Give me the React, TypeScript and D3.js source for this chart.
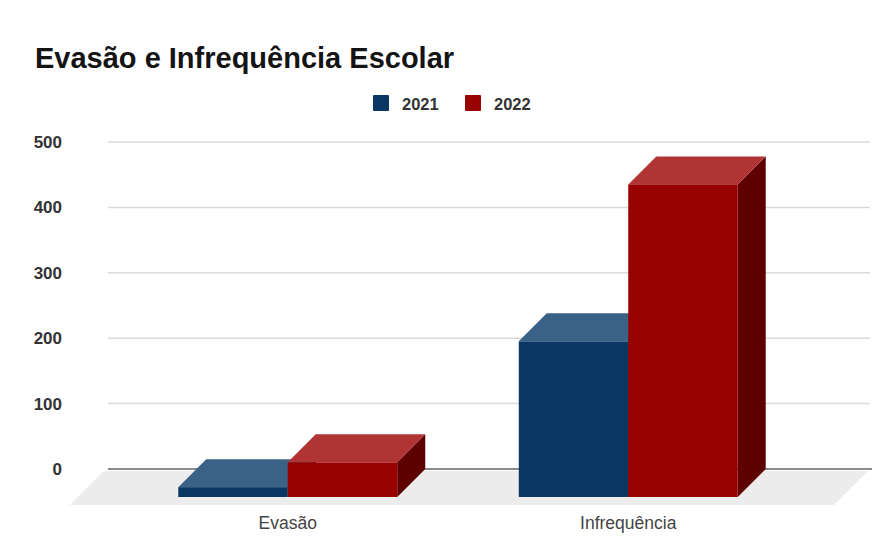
import * as d3 from "d3";

const categories = ["Evasão", "Infrequência"];
const seriesNames = ["2021", "2022"];
const values2021 = [15, 238];
const values2022 = [53, 478];
const yTicks = [0, 100, 200, 300, 400, 500];

const W = 886;
const H = 549;
const depth = 28;
const font = "Arial, 'Liberation Sans', sans-serif";

const palette = [
  { front: "#093662", top: "#3a6186", side: "#06264a" },
  { front: "#990000", top: "#b03434", side: "#5e0000" },
];

export default function App() {
  // back wall scale (gridlines live here)
  const y = d3.scaleLinear().domain([0, 500]).range([469, 142]);
  const gridX0 = 108;
  const gridX1 = 870;

  // front faces of the boxes
  const x = d3
    .scaleBand<string>()
    .domain(categories)
    .range([78, 838])
    .paddingInner(0.357)
    .paddingOuter(0.2945);
  const xs = d3.scaleBand<string>().domain(seriesNames).range([0, x.bandwidth()]).padding(0);

  const series = [values2021, values2022];

  const floorTop = y(0) + 2;
  const floorBot = 505;
  const floorDx = floorBot - floorTop;
  const floorPts = [
    [gridX0 - 4, floorTop],
    [gridX1 - 2, floorTop],
    [gridX1 - 2 - floorDx, floorBot],
    [gridX0 - 4 - floorDx, floorBot],
  ];

  const poly = (pts: number[][]) => pts.map((p) => p.join(",")).join(" ");

  return (
    <svg
      width={W}
      height={H}
      style={{ position: "absolute", left: 0, top: 0, background: "#fff" }}
      fontFamily={font}
    >
      <text x={35} y={68} fontSize={29} fontWeight="bold" fill="#141414">
        Evasão e Infrequência Escolar
      </text>

      {/* legend */}
      {seriesNames.map((s, i) => (
        <g key={s} transform={`translate(${373 + i * 92},95)`}>
          <rect width={16} height={16} fill={palette[i].front} rx={1} />
          <text x={29} y={14.5} fontSize={16.5} fontWeight="bold" fill="#333">
            {s}
          </text>
        </g>
      ))}

      {/* floor */}
      <polygon points={poly(floorPts)} fill="#ececec" />

      {/* gridlines */}
      {yTicks.map((t) => (
        <g key={t}>
          <line
            x1={gridX0}
            x2={t === 0 ? gridX1 + 2 : gridX1}
            y1={y(t)}
            y2={y(t)}
            stroke={t === 0 ? "#8a8a8a" : "#dadada"}
            strokeWidth={t === 0 ? 2 : 1.5}
          />
          <text
            x={62}
            y={y(t)}
            dy="0.35em"
            textAnchor="end"
            fontSize={17}
            fontWeight="bold"
            fill="#333"
          >
            {t}
          </text>
        </g>
      ))}

      {/* 3D bars */}
      {categories.map((c, ci) => (
        <g key={c}>
          {seriesNames.map((s, si) => {
            const v = series[si][ci];
            const x0 = (x(c) ?? 0) + (xs(s) ?? 0);
            const x1 = x0 + xs.bandwidth();
            const yb = y(0) + depth;
            const yt = y(v) + depth;
            const col = palette[si];
            const top = [
              [x0, yt],
              [x1, yt],
              [x1 + depth, yt - depth],
              [x0 + depth, yt - depth],
            ];
            const side = [
              [x1, yt],
              [x1 + depth, yt - depth],
              [x1 + depth, yb - depth],
              [x1, yb],
            ];
            return (
              <g key={s}>
                <polygon points={poly(side)} fill={col.side} />
                <polygon points={poly(top)} fill={col.top} />
                <rect x={x0} y={yt} width={x1 - x0} height={yb - yt} fill={col.front} />
              </g>
            );
          })}
          <text
            x={(x(c) ?? 0) + x.bandwidth() / 2}
            y={529}
            textAnchor="middle"
            fontSize={17.5}
            fill="#444"
          >
            {c}
          </text>
        </g>
      ))}
    </svg>
  );
}
